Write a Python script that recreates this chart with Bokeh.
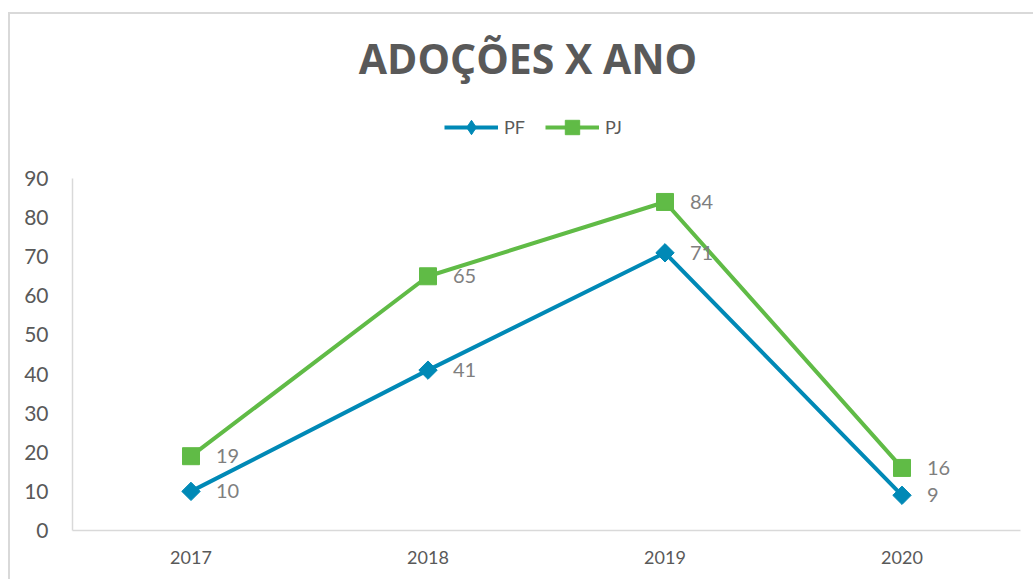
import math
from bokeh.plotting import figure
from bokeh.models import Range1d, FixedTicker, Legend, LegendItem, Label
from bokeh.core.properties import value
from bokeh.embed import file_html
from bokeh.resources import INLINE

years = ["2017", "2018", "2019", "2020"]
pf = [10, 41, 71, 9]
pj = [19, 65, 84, 16]
y_ticks = [0, 10, 20, 30, 40, 50, 60, 70, 80, 90]
title_text = "ADOÇÕES X ANO"

xs = list(range(1, len(years) + 1))

W, H = 1025, 567
left, right, top, bottom = 62, 15, 0, 51
frame_h = H - top - bottom
frame_w = W - left - right
px_per_unit = 352 / 90.0
y_end = frame_h / px_per_unit
px_per_cat = frame_w / len(years)

p = figure(width=W, height=H, output_backend="svg", toolbar_location=None,
           x_range=Range1d(0.5, len(years) + 0.5), y_range=Range1d(0, y_end),
           min_border_left=left, min_border_right=right, min_border_top=top,
           min_border_bottom=bottom,
           styles={"margin-left": "8px", "margin-top": "12px",
                   "border-left": "2px solid #d9d9d9",
                   "border-top": "2px solid #d9d9d9"})
p.outline_line_color = None
p.xgrid.grid_line_color = None
p.ygrid.grid_line_color = None
p.background_fill_color = "white"
p.border_fill_color = "white"

FONT = "Lato"
GREY = "#595959"

p.yaxis.ticker = FixedTicker(ticks=y_ticks)
p.yaxis.bounds = (0, 90)
p.yaxis.axis_line_color = "#d9d9d9"
p.yaxis.axis_line_width = 1.5
p.yaxis.major_tick_line_color = None
p.yaxis.minor_tick_line_color = None
p.yaxis.major_label_text_font = FONT
p.yaxis.major_label_text_font_size = "21px"
p.yaxis.major_label_text_color = GREY
p.yaxis.major_label_standoff = 18

p.xaxis.ticker = FixedTicker(ticks=xs)
p.xaxis.major_label_overrides = {x: y for x, y in zip(xs, years)}
p.xaxis.axis_line_color = "#d9d9d9"
p.xaxis.axis_line_width = 1.5
p.xaxis.major_tick_line_color = None
p.xaxis.minor_tick_line_color = None
p.xaxis.major_label_text_font = FONT
p.xaxis.major_label_text_font_size = "18px"
p.xaxis.major_label_text_color = GREY
p.xaxis.major_label_standoff = 14

BLUE = "#0089b6"
GREEN = "#60bb46"

l1 = p.line(xs, pf, line_color=BLUE, line_width=4)
m1 = p.scatter(xs, pf, marker="square", angle=math.pi / 4, size=13,
               fill_color=BLUE, line_color=BLUE)
l2 = p.line(xs, pj, line_color=GREEN, line_width=4)
m2 = p.scatter(xs, pj, marker="square", size=17, fill_color=GREEN, line_color=GREEN)

# legend-only diamond (no plotted points)
m1_leg = p.scatter([float("nan")], [float("nan")], marker="diamond", size=13,
                   fill_color=BLUE, line_color=BLUE)

for vals in (pf, pj):
    p.text(xs, vals, text=[str(v) for v in vals], x_offset=25,
           text_baseline="middle", text_align="left",
           text_font=value(FONT), text_font_size="20px", text_color="#7f7f7f")

title_x = 0.5 + (527.5 - 72) / px_per_cat
title_y = (frame_h - 43) / px_per_unit
p.add_layout(Label(x=title_x, y=title_y, text=title_text, text_align="center",
                   text_baseline="middle", text_font="Open Sans", text_font_size="41px",
                   text_font_style="bold", text_color=GREY))

legend = Legend(items=[LegendItem(label="PF", renderers=[l1, m1_leg]),
                       LegendItem(label="PJ", renderers=[l2, m2])],
                location=(372, 385), orientation="horizontal",
                glyph_width=54, glyph_height=36, label_height=20,
                label_standoff=6, spacing=20, padding=0, margin=0,
                border_line_alpha=0, background_fill_alpha=0,
                label_text_font=FONT, label_text_font_size="18px",
                label_text_color=GREY)
p.add_layout(legend)

open("out.html", "w").write(file_html(p, INLINE))
